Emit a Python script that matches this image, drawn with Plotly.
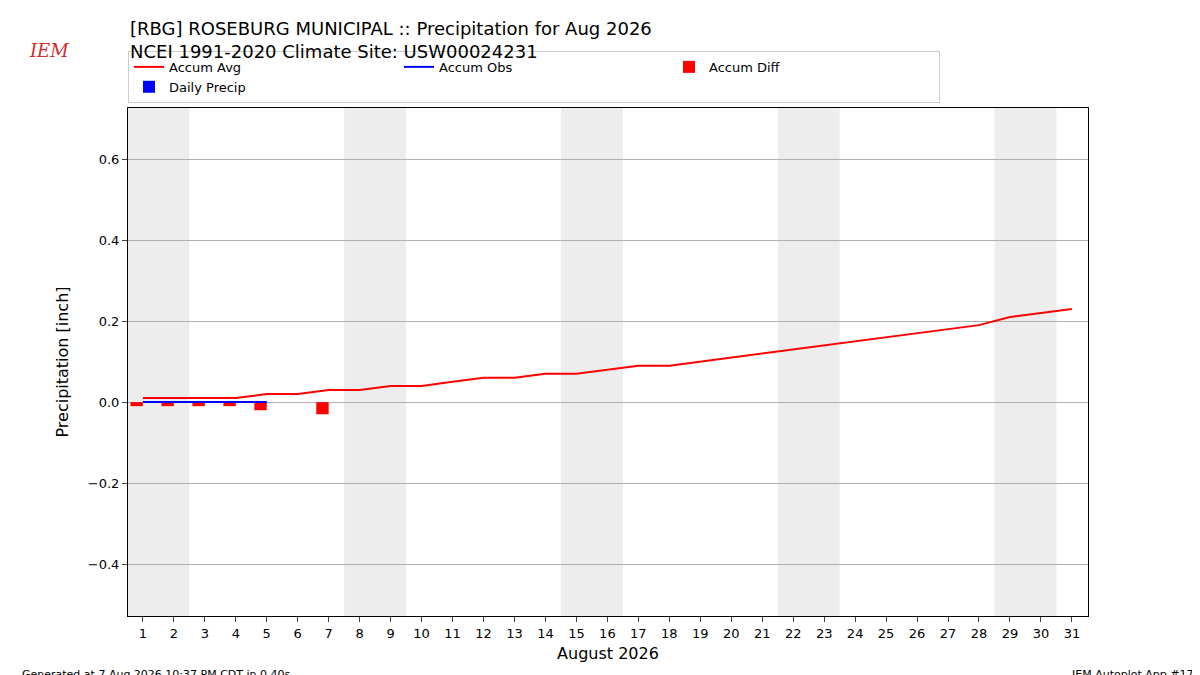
import plotly.graph_objects as go

days = list(range(1, 32))
accum_avg = [0.01,0.01,0.01,0.01,0.02,0.02,0.03,0.03,0.04,0.04,0.05,0.06,0.06,0.07,0.07,0.08,
             0.09,0.09,0.10,0.11,0.12,0.13,0.14,0.15,0.16,0.17,0.18,0.19,0.21,0.22,0.23]
obs_days = [1, 2, 3, 4, 5]
accum_obs = [0.0, 0.0, 0.0, 0.0, 0.0]
diff_days = [1, 2, 3, 4, 5, 7]
accum_diff = [-0.01, -0.01, -0.01, -0.01, -0.02, -0.03]
daily_precip = [0.0, 0.0, 0.0, 0.0, 0.0]
weekends = [(0.5, 2.5), (7.5, 9.5), (14.5, 16.5), (21.5, 23.5), (28.5, 30.5)]

fig = go.Figure()
for a, b in weekends:
    fig.add_vrect(x0=a, x1=b, fillcolor="#ededed", line_width=0, layer="below")
fig.add_trace(go.Scatter(x=days, y=accum_avg, mode="lines", line=dict(color="red", width=2), name="Accum Avg"))
fig.add_trace(go.Scatter(x=obs_days, y=accum_obs, mode="lines", line=dict(color="blue", width=2), name="Accum Obs"))
fig.add_trace(go.Bar(x=diff_days, y=accum_diff, width=0.4, offset=-0.4, marker=dict(color="red", line_width=0), name="Accum Diff"))
fig.add_trace(go.Bar(x=obs_days, y=daily_precip, width=0.4, offset=0, marker=dict(color="blue", line_width=0), name="Daily Precip"))

fig.update_layout(
    width=1200, height=675, plot_bgcolor="white", paper_bgcolor="white",
    margin=dict(l=120, r=120, t=100, b=67, autoexpand=False),
    font=dict(family="DejaVu Sans", size=13, color="black"),
    barmode="overlay", showlegend=True,
    legend=dict(orientation="h", x=0, y=1.01, xanchor="left", yanchor="bottom",
                bordercolor="#cccccc", borderwidth=1, entrywidth=225, font=dict(size=13)),
    xaxis=dict(range=[0.52, 31.52], tickmode="array", tickvals=days, ticktext=[str(d) for d in days],
               showgrid=False, showline=True, linecolor="black", mirror=True, ticks="outside",
               automargin=False, title=dict(text="August 2026", font=dict(size=16), standoff=8)),
    yaxis=dict(range=[-0.528, 0.726], tickvals=[-0.4, -0.2, 0, 0.2, 0.4, 0.6],
               ticktext=["\u22120.4", "\u22120.2", "0.0", "0.2", "0.4", "0.6"],
               showgrid=True, gridcolor="#b0b0b0", zeroline=False, showline=True, linecolor="black",
               mirror=True, ticks="outside", automargin=False,
               title=dict(text="Precipitation [inch]", font=dict(size=16))),
    annotations=[
        dict(text="[RBG] ROSEBURG MUNICIPAL :: Precipitation for Aug 2026<br>NCEI 1991-2020 Climate Site: USW00024231",
             xref="paper", yref="paper", x=0, y=1.0, yshift=92, xanchor="left", yanchor="top",
             align="left", showarrow=False, font=dict(size=18)),
        dict(text="Generated at 7 Aug 2026 10:37 PM CDT in 0.40s", xref="paper", yref="paper",
             x=-0.113, y=0, yshift=-67, xanchor="left", yanchor="bottom", showarrow=False, font=dict(size=11)),
        dict(text="IEM Autoplot App #17", xref="paper", yref="paper", x=1.113, y=0, yshift=-67,
             xanchor="right", yanchor="bottom", showarrow=False, font=dict(size=11)),
        dict(text="<i>IEM</i>", xref="paper", yref="paper", x=-0.105, y=1.0, yshift=70,
             xanchor="left", yanchor="top", showarrow=False, font=dict(size=18, color="#d03030", family="DejaVu Serif")),
    ],
)
fig.write_html("out.html")
